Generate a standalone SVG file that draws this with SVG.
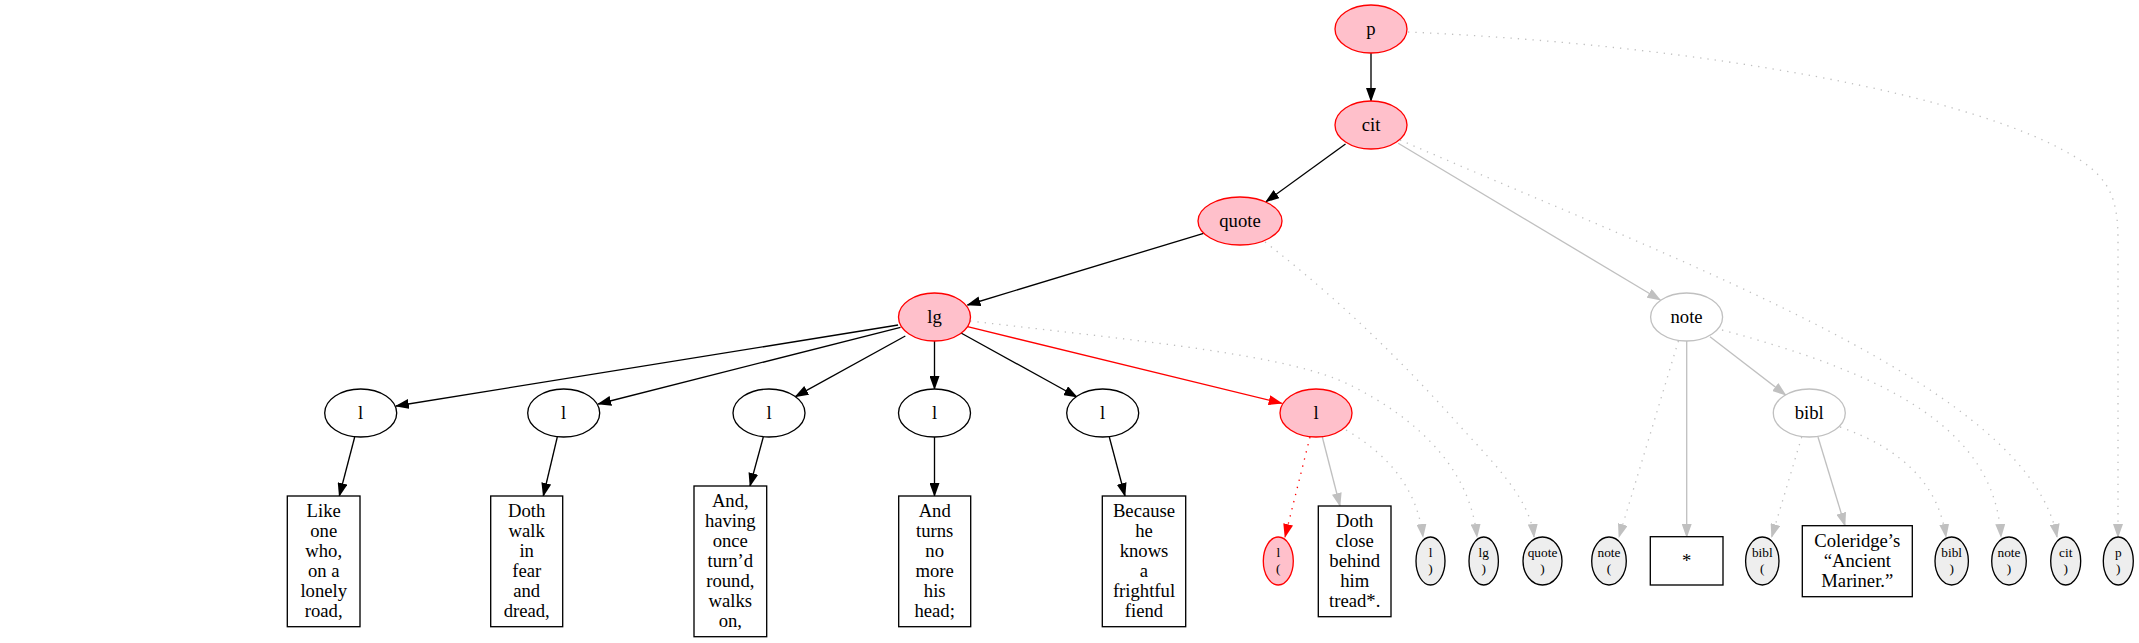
<svg xmlns="http://www.w3.org/2000/svg" width="2139" height="643" viewBox="0 0 2139 643">
<style>
text{font-family:"Liberation Serif","Times New Roman",serif;fill:#000;text-anchor:middle}
.t{font-size:18.67px}
.s{font-size:13.33px}
.hot{fill:#ffc0cb;stroke:#ff0000;stroke-width:1.33}
.plain{fill:#fff;stroke:#000;stroke-width:1.33}
.dim{fill:#fff;stroke:#c0c0c0;stroke-width:1.33}
.leaf{fill:#eeeeee;stroke:#000;stroke-width:1.33}
.box{fill:#fff;stroke:#000;stroke-width:1.33}
.e{fill:none;stroke-width:1.33}
.k{stroke:#000;marker-end:url(#ak)}
.r{stroke:#ff0000;marker-end:url(#ar)}
.g{stroke:#c0c0c0;marker-end:url(#ag)}
.d{stroke-dasharray:1.33 6}
</style>
<defs>
<marker id="ak" markerUnits="userSpaceOnUse" markerWidth="14" markerHeight="10" viewBox="0 0 14 10" refX="13" refY="5" orient="auto"><path d="M0,0 L14,5 L0,10 z" fill="#000"/></marker>
<marker id="ar" markerUnits="userSpaceOnUse" markerWidth="14" markerHeight="10" viewBox="0 0 14 10" refX="13" refY="5" orient="auto"><path d="M0,0 L14,5 L0,10 z" fill="#ff0000"/></marker>
<marker id="ag" markerUnits="userSpaceOnUse" markerWidth="14" markerHeight="10" viewBox="0 0 14 10" refX="13" refY="5" orient="auto"><path d="M0,0 L14,5 L0,10 z" fill="#c0c0c0"/></marker>
</defs>
<rect width="2139" height="643" fill="#fff"/>
<g id="connectors">
<path class="e k" d="M1371,53 L1371,101"/>
<path class="e k" d="M1345.5,144 L1266,201.7"/>
<path class="e k" d="M1203.6,233.3 L967.5,305"/>
<path class="e g" d="M1398.2,143.3 L1660.3,300"/>
<path class="e k" d="M898.1,325 L395.9,406"/>
<path class="e k" d="M900.5,327.3 L598.2,404"/>
<path class="e k" d="M905.3,336 L795.3,396.7"/>
<path class="e k" d="M934.5,341 L934.5,389"/>
<path class="e k" d="M961,333 L1077,397"/>
<path class="e r" d="M967.5,326.7 L1281.7,403.3"/>
<path class="e k" d="M354.7,437 L339.3,496"/>
<path class="e k" d="M557.3,437 L543.3,496"/>
<path class="e k" d="M763.3,437 L750,486"/>
<path class="e k" d="M934.5,437 L934.5,496"/>
<path class="e k" d="M1109.3,437 L1125,496"/>
<path class="e r d" d="M1310,437 L1285,537"/>
<path class="e g" d="M1322.3,437 L1340,506"/>
<path class="e g d" d="M1346,430 Q1415,470 1423,537"/>
<path class="e g d" d="M970,321 C1150,342 1290,355 1350,385 C1420,420 1470,470 1477,537"/>
<path class="e g d" d="M1265,242 C1340,300 1400,360 1450,415 C1485,455 1530,495 1534,537"/>
<path class="e g d" d="M1678.4,341 L1619,537"/>
<path class="e g" d="M1686.7,341 L1686.7,537"/>
<path class="e g" d="M1710,336.7 L1785.6,395"/>
<path class="e g d" d="M1801.7,437 L1771.7,537"/>
<path class="e g" d="M1818,437 L1845,525.7"/>
<path class="e g d" d="M1840,427 Q1935,460 1946,537"/>
<path class="e g d" d="M1722,330 C1890,375 1995,430 2001,537"/>
<path class="e g d" d="M1400,140 C1700,270 2030,390 2057,537"/>
<path class="e g d" d="M1408,32 C1700,45 1980,95 2080,160 C2110,180 2118,200 2118,240 L2118,537"/>
</g>
<g id="n_p"><ellipse class="hot" cx="1371" cy="29" rx="36" ry="24"/><text class="t" x="1371" y="35">p</text></g>
<g id="n_cit"><ellipse class="hot" cx="1371" cy="125" rx="36" ry="24"/><text class="t" x="1371" y="131">cit</text></g>
<g id="n_quote"><ellipse class="hot" cx="1240" cy="221" rx="42" ry="24"/><text class="t" x="1240" y="227">quote</text></g>
<g id="n_lg"><ellipse class="hot" cx="934.5" cy="317" rx="36" ry="24"/><text class="t" x="934.5" y="323">lg</text></g>
<g id="n_note"><ellipse class="dim" cx="1686.6" cy="317" rx="36" ry="24"/><text class="t" x="1686.6" y="323">note</text></g>
<g id="n_l1"><ellipse class="plain" cx="360.7" cy="413" rx="36" ry="24"/><text class="t" x="360.7" y="419">l</text></g>
<g id="n_l2"><ellipse class="plain" cx="563.7" cy="413" rx="36" ry="24"/><text class="t" x="563.7" y="419">l</text></g>
<g id="n_l3"><ellipse class="plain" cx="769" cy="413" rx="36" ry="24"/><text class="t" x="769" y="419">l</text></g>
<g id="n_l4"><ellipse class="plain" cx="934.5" cy="413" rx="36" ry="24"/><text class="t" x="934.5" y="419">l</text></g>
<g id="n_l5"><ellipse class="plain" cx="1102.7" cy="413" rx="36" ry="24"/><text class="t" x="1102.7" y="419">l</text></g>
<g id="n_l6"><ellipse class="hot" cx="1316" cy="413" rx="36" ry="24"/><text class="t" x="1316" y="419">l</text></g>
<g id="n_bibl"><ellipse class="dim" cx="1809.3" cy="413" rx="36" ry="24"/><text class="t" x="1809.3" y="419">bibl</text></g>
<g id="t_1"><rect class="box" x="287.3" y="496" width="72.7" height="130.7"/><text class="t" x="323.7"><tspan x="323.7" y="517">Like</tspan><tspan x="323.7" y="537">one</tspan><tspan x="323.7" y="557">who,</tspan><tspan x="323.7" y="577">on a</tspan><tspan x="323.7" y="597">lonely</tspan><tspan x="323.7" y="617">road,</tspan></text></g>
<g id="t_2"><rect class="box" x="490.7" y="496" width="72" height="130.7"/><text class="t" x="526.7"><tspan x="526.7" y="517">Doth</tspan><tspan x="526.7" y="537">walk</tspan><tspan x="526.7" y="557">in</tspan><tspan x="526.7" y="577">fear</tspan><tspan x="526.7" y="597">and</tspan><tspan x="526.7" y="617">dread,</tspan></text></g>
<g id="t_3"><rect class="box" x="694" y="486" width="72.7" height="150.7"/><text class="t" x="730.3"><tspan x="730.3" y="507">And,</tspan><tspan x="730.3" y="527">having</tspan><tspan x="730.3" y="547">once</tspan><tspan x="730.3" y="567">turn’d</tspan><tspan x="730.3" y="587">round,</tspan><tspan x="730.3" y="607">walks</tspan><tspan x="730.3" y="627">on,</tspan></text></g>
<g id="t_4"><rect class="box" x="898.7" y="496" width="72" height="130.7"/><text class="t" x="934.7"><tspan x="934.7" y="517">And</tspan><tspan x="934.7" y="537">turns</tspan><tspan x="934.7" y="557">no</tspan><tspan x="934.7" y="577">more</tspan><tspan x="934.7" y="597">his</tspan><tspan x="934.7" y="617">head;</tspan></text></g>
<g id="t_5"><rect class="box" x="1102.3" y="496" width="83.4" height="130.7"/><text class="t" x="1144"><tspan x="1144" y="517">Because</tspan><tspan x="1144" y="537">he</tspan><tspan x="1144" y="557">knows</tspan><tspan x="1144" y="577">a</tspan><tspan x="1144" y="597">frightful</tspan><tspan x="1144" y="617">fiend</tspan></text></g>
<g id="m_l_open"><ellipse class="hot" cx="1278.3" cy="561" rx="15" ry="24"/><text class="s" x="1278.3"><tspan x="1278.3" y="557">l</tspan><tspan x="1278.3" y="573">(</tspan></text></g>
<g id="t_6"><rect class="box" x="1318.3" y="506" width="72.7" height="110.7"/><text class="t" x="1354.7"><tspan x="1354.7" y="527">Doth</tspan><tspan x="1354.7" y="547">close</tspan><tspan x="1354.7" y="567">behind</tspan><tspan x="1354.7" y="587">him</tspan><tspan x="1354.7" y="607">tread*.</tspan></text></g>
<g id="m_l_close"><ellipse class="leaf" cx="1430.5" cy="561" rx="14.5" ry="24"/><text class="s" x="1430.5"><tspan x="1430.5" y="557">l</tspan><tspan x="1430.5" y="573">)</tspan></text></g>
<g id="m_lg_close"><ellipse class="leaf" cx="1483.7" cy="561" rx="14.7" ry="24"/><text class="s" x="1483.7"><tspan x="1483.7" y="557">lg</tspan><tspan x="1483.7" y="573">)</tspan></text></g>
<g id="m_quote_close"><ellipse class="leaf" cx="1542.5" cy="561" rx="19.5" ry="24"/><text class="s" x="1542.5"><tspan x="1542.5" y="557">quote</tspan><tspan x="1542.5" y="573">)</tspan></text></g>
<g id="m_note_open"><ellipse class="leaf" cx="1609" cy="561" rx="17.3" ry="24"/><text class="s" x="1609"><tspan x="1609" y="557">note</tspan><tspan x="1609" y="573">(</tspan></text></g>
<g id="t_7"><rect class="box" x="1650.3" y="536.7" width="72.7" height="48.3"/><text class="t" x="1686.7" y="567">*</text></g>
<g id="m_bibl_open"><ellipse class="leaf" cx="1762.3" cy="561" rx="16.7" ry="24"/><text class="s" x="1762.3"><tspan x="1762.3" y="557">bibl</tspan><tspan x="1762.3" y="573">(</tspan></text></g>
<g id="t_8"><rect class="box" x="1802.3" y="525.7" width="110" height="71"/><text class="t" x="1857.3"><tspan x="1857.3" y="547">Coleridge’s</tspan><tspan x="1857.3" y="567">“Ancient</tspan><tspan x="1857.3" y="587">Mariner.”</tspan></text></g>
<g id="m_bibl_close"><ellipse class="leaf" cx="1951.7" cy="561" rx="16.7" ry="24"/><text class="s" x="1951.7"><tspan x="1951.7" y="557">bibl</tspan><tspan x="1951.7" y="573">)</tspan></text></g>
<g id="m_note_close"><ellipse class="leaf" cx="2009" cy="561" rx="17.3" ry="24"/><text class="s" x="2009"><tspan x="2009" y="557">note</tspan><tspan x="2009" y="573">)</tspan></text></g>
<g id="m_cit_close"><ellipse class="leaf" cx="2065.7" cy="561" rx="15" ry="24"/><text class="s" x="2065.7"><tspan x="2065.7" y="557">cit</tspan><tspan x="2065.7" y="573">)</tspan></text></g>
<g id="m_p_close"><ellipse class="leaf" cx="2118.3" cy="561" rx="15" ry="24"/><text class="s" x="2118.3"><tspan x="2118.3" y="557">p</tspan><tspan x="2118.3" y="573">)</tspan></text></g>
</svg>
